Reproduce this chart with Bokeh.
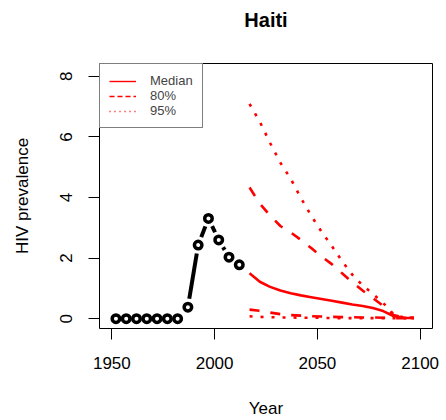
import math
from bokeh.plotting import figure
from bokeh.models import (Range1d, FixedTicker, Legend, LegendItem, Title,
                          ColumnDataSource, CDSView, IndexFilter)
from bokeh.embed import file_html
from bokeh.resources import INLINE

# ---- data ----
obs_years = [1952, 1957, 1962, 1967, 1972, 1977, 1982, 1987, 1992, 1997, 2002, 2007, 2012]
obs_prev = [0.0, 0.0, 0.0, 0.0, 0.0, 0.0, 0.0, 0.38, 2.43, 3.31, 2.60, 2.03, 1.78]

proj_years = [2017, 2022, 2027, 2032, 2037, 2042, 2047, 2052, 2057,
              2062, 2067, 2072, 2077, 2082, 2087, 2092, 2097]
median = [1.50, 1.22, 1.05, 0.93, 0.84, 0.77, 0.71, 0.65, 0.59,
          0.53, 0.47, 0.42, 0.35, 0.25, 0.09, 0.03, 0.02]
upper80 = [4.33, 3.80, 3.40, 3.06, 2.85, 2.60, 2.33, 2.05, 1.80,
           1.50, 1.20, 0.93, 0.68, 0.42, 0.12, 0.04, 0.03]
lower80 = [0.30, 0.26, 0.20, 0.15, 0.12, 0.10, 0.08, 0.07, 0.06,
           0.05, 0.05, 0.04, 0.04, 0.03, 0.02, 0.02, 0.02]
upper95 = [7.09, 6.50, 5.80, 5.15, 4.62, 3.98, 3.40, 2.87, 2.40,
           1.90, 1.45, 1.10, 0.82, 0.52, 0.15, 0.04, 0.02]
lower95 = [0.08, 0.06, 0.05, 0.04, 0.04, 0.03, 0.03, 0.03, 0.02,
           0.02, 0.02, 0.02, 0.02, 0.02, 0.02, 0.02, 0.02]

x_ticks = [1950, 2000, 2050, 2100]
y_ticks = [0, 2, 4, 6, 8]
legend_labels = ["Median", "80%", "95%"]
title_text = "Haiti"

X0, X1 = 1944, 2106
Y0, Y1 = -0.324, 8.424
W, H = 446, 420
BL, BR, BT, BB = 99, 14, 63, 92
FW, FH = W - BL - BR, H - BT - BB
FONT = "Liberation Sans"

p = figure(width=W, height=H, output_backend="svg", toolbar_location=None,
           tools="", x_range=Range1d(X0, X1), y_range=Range1d(Y0, Y1),
           min_border_left=BL, min_border_right=BR, min_border_top=BT,
           min_border_bottom=BB)

p.xgrid.visible = False
p.ygrid.visible = False
p.outline_line_color = "black"
p.outline_line_width = 1
p.background_fill_color = "white"
p.border_fill_color = "white"

for ax in (p.xaxis[0], p.yaxis[0]):
    ax.axis_line_color = None
    ax.major_tick_line_color = "black"
    ax.major_tick_line_width = 1
    ax.major_tick_out = 11
    ax.major_tick_in = 0
    ax.minor_tick_line_color = None
    ax.major_label_text_font = FONT
    ax.major_label_text_font_size = "17px"
    ax.major_label_text_color = "black"
    ax.axis_label_text_font = FONT
    ax.axis_label_text_font_size = "17px"
    ax.axis_label_text_font_style = "normal"
    ax.axis_label_text_color = "black"

p.xaxis[0].ticker = FixedTicker(ticks=x_ticks)
p.yaxis[0].ticker = FixedTicker(ticks=y_ticks)
p.xaxis[0].axis_label = "Year"
p.yaxis[0].axis_label = "HIV prevalence"
p.xaxis[0].major_label_standoff = 17
p.yaxis[0].major_label_standoff = 16
p.xaxis[0].axis_label_standoff = 27
p.yaxis[0].axis_label_standoff = 26
p.yaxis[0].major_label_orientation = "vertical"

# title: an empty spacer title next to the frame, then the real title above it
p.add_layout(Title(text=" ", text_font_size="1px", standoff=30), "above")
p.add_layout(Title(text=title_text, align="center", text_font=FONT,
                   text_font_size="20px", text_font_style="bold",
                   text_color="black", standoff=0), "above")

# observed series: R type="b" (points with gapped connecting segments)
sx = FW / (X1 - X0)
sy = FH / (Y1 - Y0)
gap = 8.5
xs0, ys0, xs1, ys1 = [], [], [], []
for i in range(len(obs_years) - 1):
    xa, ya = obs_years[i], obs_prev[i]
    xb, yb = obs_years[i + 1], obs_prev[i + 1]
    L = math.hypot((xb - xa) * sx, (yb - ya) * sy)
    if L > 2 * gap:
        f = gap / L
        xs0.append(xa + (xb - xa) * f)
        ys0.append(ya + (yb - ya) * f)
        xs1.append(xb - (xb - xa) * f)
        ys1.append(yb - (yb - ya) * f)
p.segment(xs0, ys0, xs1, ys1, line_color="black", line_width=4)
p.scatter(obs_years, obs_prev, marker="circle", size=7.5, fill_color=None,
          line_color="black", line_width=3.5)

RED = "#FF0000"
LW = 2.6
p.line(proj_years, median, line_color=RED, line_width=LW)
p.line(proj_years, upper80, line_color=RED, line_width=LW, line_dash="10 11")
p.line(proj_years, lower80, line_color=RED, line_width=LW, line_dash="10 11")
p.line(proj_years, upper95, line_color=RED, line_width=LW, line_dash="3 8")
p.line(proj_years, lower95, line_color=RED, line_width=LW, line_dash="3 8")

# legend keys (thin lines, like R's legend); a one-point view draws no stroke
key_src = ColumnDataSource(dict(x=proj_years, m=median, u=upper80, w=upper95))
one = CDSView(filter=IndexFilter(indices=[0]))
k1 = p.line("x", "m", source=key_src, view=one, line_color=RED, line_width=1.4)
k2 = p.line("x", "u", source=key_src, view=one, line_color=RED, line_width=1.4,
            line_dash="5 3")
k3 = p.line("x", "w", source=key_src, view=one, line_color=RED, line_width=1.4,
            line_dash="1 4")

legend = Legend(items=[LegendItem(label=legend_labels[0], renderers=[k1]),
                       LegendItem(label=legend_labels[1], renderers=[k2]),
                       LegendItem(label=legend_labels[2], renderers=[k3])],
                location="top_left", margin=0, padding=9, spacing=0,
                glyph_width=27, glyph_height=14, label_height=14,
                label_standoff=14, label_text_font=FONT,
                label_text_font_size="13px", border_line_color="black",
                border_line_width=1, background_fill_alpha=1.0)
p.add_layout(legend)

open("out.html", "w").write(file_html(p, INLINE))
